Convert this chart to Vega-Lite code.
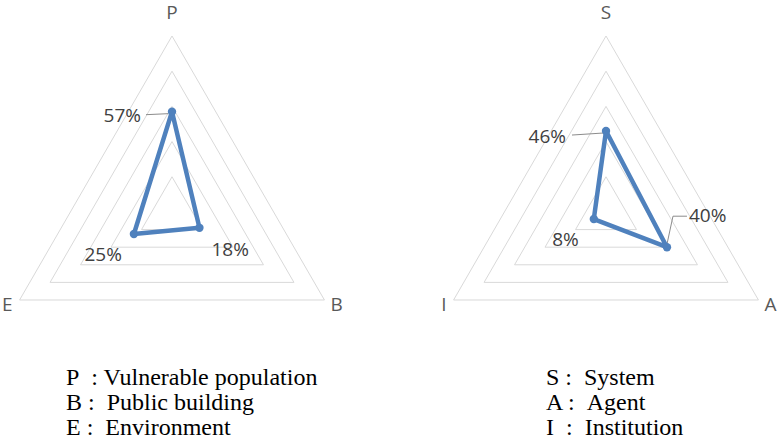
{
 "$schema": "https://vega.github.io/schema/vega-lite/v6.json",
 "padding": 0,
 "spacing": 0,
 "config": {"view": {"stroke": null}, "text": {"font": "Open Sans"}},
 "datasets": {
  "grid": [
   {"value": 0.2, "i": 0}, {"value": 0.2, "i": 1}, {"value": 0.2, "i": 2},
   {"value": 0.4, "i": 0}, {"value": 0.4, "i": 1}, {"value": 0.4, "i": 2},
   {"value": 0.6, "i": 0}, {"value": 0.6, "i": 1}, {"value": 0.6, "i": 2},
   {"value": 0.8, "i": 0}, {"value": 0.8, "i": 1}, {"value": 0.8, "i": 2},
   {"value": 1.0, "i": 0}, {"value": 1.0, "i": 1}, {"value": 1.0, "i": 2}
  ],
  "left": [
   {"axis": "P", "i": 0, "value": 0.57},
   {"axis": "B", "i": 1, "value": 0.18},
   {"axis": "E", "i": 2, "value": 0.25}
  ],
  "right": [
   {"axis": "S", "i": 0, "value": 0.46},
   {"axis": "A", "i": 1, "value": 0.40},
   {"axis": "I", "i": 2, "value": 0.08}
  ]
 },
 "hconcat": [
  {
   "width": 390,
   "height": 330,
   "title": {
    "text": ["P\u00a0\u00a0: Vulnerable population", "B :\u00a0\u00a0Public building", "E :\u00a0\u00a0Environment"],
    "orient": "bottom", "anchor": "start", "frame": "group", "dx": 66, "offset": 36,
    "font": "Liberation Serif", "fontSize": 24, "fontWeight": "normal", "color": "#000000", "lineHeight": 25
   },
   "encoding": {
    "x": {"field": "x", "type": "quantitative", "scale": {"domain": [-0.9773, 1.2386], "nice": false, "zero": false}, "axis": null},
    "y": {"field": "y", "type": "quantitative", "scale": {"domain": [-0.6705, 1.2045], "nice": false, "zero": false}, "axis": null}
   },
   "layer": [
    {
     "data": {"name": "grid"},
     "transform": [
      {"calculate": "PI/2 - datum.i*2*PI/3", "as": "a"},
      {"calculate": "datum.value*cos(datum.a)", "as": "x"},
      {"calculate": "datum.value*sin(datum.a)", "as": "y"}
     ],
     "mark": {"type": "line", "interpolate": "linear-closed", "color": "#d9d9d9", "strokeWidth": 1},
     "encoding": {"detail": {"field": "value", "type": "nominal"}, "order": {"field": "i", "type": "quantitative"}}
    },
    {
     "data": {"name": "left"},
     "transform": [
      {"calculate": "PI/2 - datum.i*2*PI/3", "as": "a"},
      {"calculate": "datum.value*cos(datum.a)", "as": "x"},
      {"calculate": "datum.value*sin(datum.a)", "as": "y"},
      {"filter": "datum.axis == 'P'"}
     ],
     "mark": {"type": "rule", "color": "#8c8c8c", "strokeWidth": 1, "xOffset": -26, "x2Offset": -4, "yOffset": 3, "y2Offset": 2},
     "encoding": {"x2": {"field": "x"}, "y2": {"field": "y"}}
    },
    {
     "data": {"name": "left"},
     "transform": [
      {"calculate": "PI/2 - datum.i*2*PI/3", "as": "a"},
      {"calculate": "datum.value*cos(datum.a)", "as": "x"},
      {"calculate": "datum.value*sin(datum.a)", "as": "y"}
     ],
     "mark": {"type": "line", "interpolate": "linear-closed", "color": "#4F81BD", "strokeWidth": 4.5, "strokeJoin": "round"},
     "encoding": {"order": {"field": "i", "type": "quantitative"}}
    },
    {
     "data": {"name": "left"},
     "transform": [
      {"calculate": "PI/2 - datum.i*2*PI/3", "as": "a"},
      {"calculate": "datum.value*cos(datum.a)", "as": "x"},
      {"calculate": "datum.value*sin(datum.a)", "as": "y"}
     ],
     "mark": {"type": "point", "filled": true, "size": 70, "color": "#4F81BD", "opacity": 1}
    },
    {
     "data": {"name": "left"},
     "transform": [
      {"calculate": "PI/2 - datum.i*2*PI/3", "as": "a"},
      {"calculate": "datum.value*cos(datum.a)", "as": "x"},
      {"calculate": "datum.value*sin(datum.a)", "as": "y"},
      {"filter": "datum.axis == 'P'"}
     ],
     "mark": {"type": "text", "align": "right", "baseline": "middle", "dx": -31, "dy": 4, "fontSize": 19, "color": "#404040"},
     "encoding": {"text": {"field": "value", "type": "quantitative", "format": ".0%"}}
    },
    {
     "data": {"name": "left"},
     "transform": [
      {"calculate": "PI/2 - datum.i*2*PI/3", "as": "a"},
      {"calculate": "datum.value*cos(datum.a)", "as": "x"},
      {"calculate": "datum.value*sin(datum.a)", "as": "y"},
      {"filter": "datum.axis == 'B'"}
     ],
     "mark": {"type": "text", "align": "left", "baseline": "middle", "dx": 12, "dy": 22, "fontSize": 19, "color": "#404040"},
     "encoding": {"text": {"field": "value", "type": "quantitative", "format": ".0%"}}
    },
    {
     "data": {"name": "left"},
     "transform": [
      {"calculate": "PI/2 - datum.i*2*PI/3", "as": "a"},
      {"calculate": "datum.value*cos(datum.a)", "as": "x"},
      {"calculate": "datum.value*sin(datum.a)", "as": "y"},
      {"filter": "datum.axis == 'E'"}
     ],
     "mark": {"type": "text", "align": "right", "baseline": "middle", "dx": -12, "dy": 21, "fontSize": 19, "color": "#404040"},
     "encoding": {"text": {"field": "value", "type": "quantitative", "format": ".0%"}}
    },
    {
     "data": {"name": "left"},
     "transform": [
      {"calculate": "PI/2 - datum.i*2*PI/3", "as": "a"},
      {"calculate": "cos(datum.a)", "as": "x"},
      {"calculate": "sin(datum.a)", "as": "y"},
      {"filter": "datum.i == 0"}
     ],
     "mark": {"type": "text", "align": "center", "baseline": "middle", "dy": -23, "fontSize": 19, "color": "#595959"},
     "encoding": {"text": {"field": "axis"}}
    },
    {
     "data": {"name": "left"},
     "transform": [
      {"calculate": "PI/2 - datum.i*2*PI/3", "as": "a"},
      {"calculate": "cos(datum.a)", "as": "x"},
      {"calculate": "sin(datum.a)", "as": "y"},
      {"filter": "datum.i == 1"}
     ],
     "mark": {"type": "text", "align": "left", "baseline": "middle", "dx": 6, "dy": 5, "fontSize": 19, "color": "#595959"},
     "encoding": {"text": {"field": "axis"}}
    },
    {
     "data": {"name": "left"},
     "transform": [
      {"calculate": "PI/2 - datum.i*2*PI/3", "as": "a"},
      {"calculate": "cos(datum.a)", "as": "x"},
      {"calculate": "sin(datum.a)", "as": "y"},
      {"filter": "datum.i == 2"}
     ],
     "mark": {"type": "text", "align": "right", "baseline": "middle", "dx": -7, "dy": 5, "fontSize": 19, "color": "#595959"},
     "encoding": {"text": {"field": "axis"}}
    }
   ]
  },
  {
   "width": 391,
   "height": 330,
   "title": {
    "text": ["S :\u00a0\u00a0System", "A :\u00a0\u00a0Agent", "I\u00a0\u00a0:\u00a0\u00a0Institution"],
    "orient": "bottom", "anchor": "start", "frame": "group", "dx": 156, "offset": 36,
    "font": "Liberation Serif", "fontSize": 24, "fontWeight": "normal", "color": "#000000", "lineHeight": 25
   },
   "encoding": {
    "x": {"field": "x", "type": "quantitative", "scale": {"domain": [-1.2273, 0.9943], "nice": false, "zero": false}, "axis": null},
    "y": {"field": "y", "type": "quantitative", "scale": {"domain": [-0.6705, 1.2045], "nice": false, "zero": false}, "axis": null}
   },
   "layer": [
    {
     "data": {"name": "grid"},
     "transform": [
      {"calculate": "PI/2 - datum.i*2*PI/3", "as": "a"},
      {"calculate": "datum.value*cos(datum.a)", "as": "x"},
      {"calculate": "datum.value*sin(datum.a)", "as": "y"}
     ],
     "mark": {"type": "line", "interpolate": "linear-closed", "color": "#d9d9d9", "strokeWidth": 1},
     "encoding": {"detail": {"field": "value", "type": "nominal"}, "order": {"field": "i", "type": "quantitative"}}
    },
    {
     "data": {"name": "right"},
     "transform": [
      {"calculate": "PI/2 - datum.i*2*PI/3", "as": "a"},
      {"calculate": "datum.value*cos(datum.a)", "as": "x"},
      {"calculate": "datum.value*sin(datum.a)", "as": "y"},
      {"filter": "datum.axis == 'S'"}
     ],
     "mark": {"type": "rule", "color": "#8c8c8c", "strokeWidth": 1, "xOffset": -34, "x2Offset": -3, "yOffset": 4, "y2Offset": 2},
     "encoding": {"x2": {"field": "x"}, "y2": {"field": "y"}}
    },
    {
     "data": {"name": "right"},
     "transform": [
      {"calculate": "PI/2 - datum.i*2*PI/3", "as": "a"},
      {"calculate": "datum.value*cos(datum.a)", "as": "x"},
      {"calculate": "datum.value*sin(datum.a)", "as": "y"},
      {"filter": "datum.axis == 'A'"}
     ],
     "mark": {"type": "rule", "color": "#8c8c8c", "strokeWidth": 1, "xOffset": 6, "x2Offset": 20, "yOffset": -31, "y2Offset": -31},
     "encoding": {"x2": {"field": "x"}, "y2": {"field": "y"}}
    },
    {
     "data": {"name": "right"},
     "transform": [
      {"calculate": "PI/2 - datum.i*2*PI/3", "as": "a"},
      {"calculate": "datum.value*cos(datum.a)", "as": "x"},
      {"calculate": "datum.value*sin(datum.a)", "as": "y"},
      {"filter": "datum.axis == 'A'"}
     ],
     "mark": {"type": "rule", "color": "#8c8c8c", "strokeWidth": 1, "xOffset": 6, "x2Offset": 0, "yOffset": -31, "y2Offset": -3},
     "encoding": {"x2": {"field": "x"}, "y2": {"field": "y"}}
    },
    {
     "data": {"name": "right"},
     "transform": [
      {"calculate": "PI/2 - datum.i*2*PI/3", "as": "a"},
      {"calculate": "datum.value*cos(datum.a)", "as": "x"},
      {"calculate": "datum.value*sin(datum.a)", "as": "y"}
     ],
     "mark": {"type": "line", "interpolate": "linear-closed", "color": "#4F81BD", "strokeWidth": 4.5, "strokeJoin": "round"},
     "encoding": {"order": {"field": "i", "type": "quantitative"}}
    },
    {
     "data": {"name": "right"},
     "transform": [
      {"calculate": "PI/2 - datum.i*2*PI/3", "as": "a"},
      {"calculate": "datum.value*cos(datum.a)", "as": "x"},
      {"calculate": "datum.value*sin(datum.a)", "as": "y"}
     ],
     "mark": {"type": "point", "filled": true, "size": 70, "color": "#4F81BD", "opacity": 1}
    },
    {
     "data": {"name": "right"},
     "transform": [
      {"calculate": "PI/2 - datum.i*2*PI/3", "as": "a"},
      {"calculate": "datum.value*cos(datum.a)", "as": "x"},
      {"calculate": "datum.value*sin(datum.a)", "as": "y"},
      {"filter": "datum.axis == 'S'"}
     ],
     "mark": {"type": "text", "align": "right", "baseline": "middle", "dx": -40, "dy": 6, "fontSize": 19, "color": "#404040"},
     "encoding": {"text": {"field": "value", "type": "quantitative", "format": ".0%"}}
    },
    {
     "data": {"name": "right"},
     "transform": [
      {"calculate": "PI/2 - datum.i*2*PI/3", "as": "a"},
      {"calculate": "datum.value*cos(datum.a)", "as": "x"},
      {"calculate": "datum.value*sin(datum.a)", "as": "y"},
      {"filter": "datum.axis == 'A'"}
     ],
     "mark": {"type": "text", "align": "left", "baseline": "middle", "dx": 22, "dy": -31, "fontSize": 19, "color": "#404040"},
     "encoding": {"text": {"field": "value", "type": "quantitative", "format": ".0%"}}
    },
    {
     "data": {"name": "right"},
     "transform": [
      {"calculate": "PI/2 - datum.i*2*PI/3", "as": "a"},
      {"calculate": "datum.value*cos(datum.a)", "as": "x"},
      {"calculate": "datum.value*sin(datum.a)", "as": "y"},
      {"filter": "datum.axis == 'I'"}
     ],
     "mark": {"type": "text", "align": "right", "baseline": "middle", "dx": -15, "dy": 21, "fontSize": 19, "color": "#404040"},
     "encoding": {"text": {"field": "value", "type": "quantitative", "format": ".0%"}}
    },
    {
     "data": {"name": "right"},
     "transform": [
      {"calculate": "PI/2 - datum.i*2*PI/3", "as": "a"},
      {"calculate": "cos(datum.a)", "as": "x"},
      {"calculate": "sin(datum.a)", "as": "y"},
      {"filter": "datum.i == 0"}
     ],
     "mark": {"type": "text", "align": "center", "baseline": "middle", "dy": -23, "fontSize": 19, "color": "#595959"},
     "encoding": {"text": {"field": "axis"}}
    },
    {
     "data": {"name": "right"},
     "transform": [
      {"calculate": "PI/2 - datum.i*2*PI/3", "as": "a"},
      {"calculate": "cos(datum.a)", "as": "x"},
      {"calculate": "sin(datum.a)", "as": "y"},
      {"filter": "datum.i == 1"}
     ],
     "mark": {"type": "text", "align": "left", "baseline": "middle", "dx": 6, "dy": 5, "fontSize": 19, "color": "#595959"},
     "encoding": {"text": {"field": "axis"}}
    },
    {
     "data": {"name": "right"},
     "transform": [
      {"calculate": "PI/2 - datum.i*2*PI/3", "as": "a"},
      {"calculate": "cos(datum.a)", "as": "x"},
      {"calculate": "sin(datum.a)", "as": "y"},
      {"filter": "datum.i == 2"}
     ],
     "mark": {"type": "text", "align": "right", "baseline": "middle", "dx": -7, "dy": 5, "fontSize": 19, "color": "#595959"},
     "encoding": {"text": {"field": "axis"}}
    }
   ]
  }
 ]
}
